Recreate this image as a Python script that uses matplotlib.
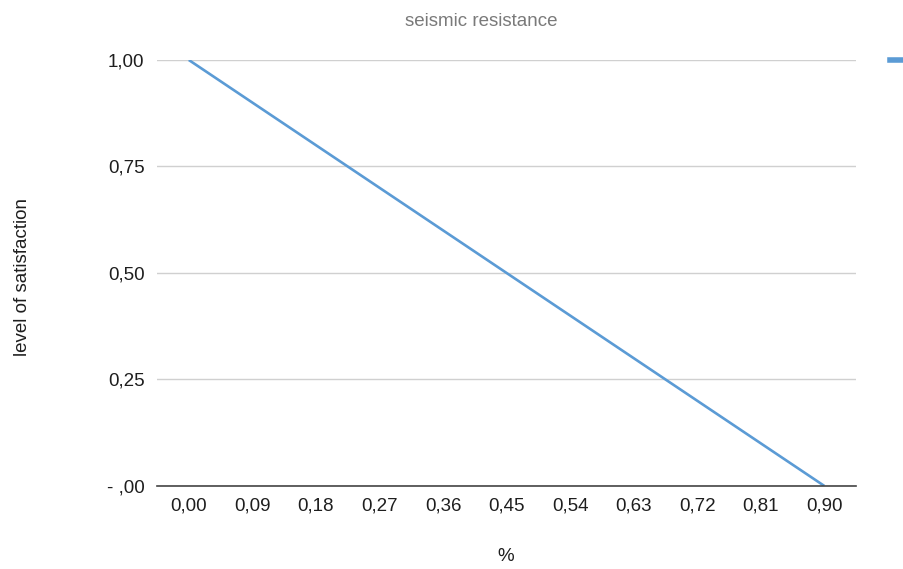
import matplotlib.pyplot as plt
from matplotlib.lines import Line2D

# share of damage (%) and the matching level of satisfaction
pct = [0.00, 0.09, 0.18, 0.27, 0.36, 0.45, 0.54, 0.63, 0.72, 0.81, 0.90]
satisfaction = [1.00, 0.90, 0.80, 0.70, 0.60, 0.50, 0.40, 0.30, 0.20, 0.10, 0.00]
y_ticks = [0.00, 0.25, 0.50, 0.75, 1.00]
y_labels = ['- ,00', '0,25', '0,50', '0,75', '1,00']

plt.rcParams['font.family'] = ['Liberation Sans', 'DejaVu Sans']

blue = '#5b9bd5'

fig = plt.figure(figsize=(9.04, 5.69), dpi=100)
ax = fig.add_axes([0.1737, 0.146, 0.7733, 0.7486])

# category axis: one slot per value
xs = list(range(len(pct)))
ax.plot(xs, satisfaction, color=blue, lw=1.9, solid_capstyle='butt', zorder=3)

ax.set_xlim(-0.5, len(pct) - 0.5)
ax.set_ylim(0, 1)
ax.set_xticks(xs)
ax.set_xticklabels([('%.2f' % v).replace('.', ',') for v in pct], fontsize=13.5,
                   color='#1e1e1e')
ax.set_yticks(y_ticks)
ax.set_yticklabels(y_labels, fontsize=13.5, color='#1e1e1e')
ax.tick_params(length=0, pad=9)
ax.tick_params(axis='x', pad=8)

ax.grid(axis='y', color='#d0d0d0', lw=1)
ax.set_axisbelow(True)
for s in ['top', 'right', 'left']:
    ax.spines[s].set_visible(False)
ax.spines['bottom'].set_color('#444444')
ax.spines['bottom'].set_linewidth(1.2)
ax.spines['bottom'].set_zorder(4)

fig.text(0.532, 0.962, 'seismic resistance', ha='center', va='center',
         fontsize=13.5, color='#7a7a7a')
fig.text(0.025, 0.513, 'level of satisfaction', rotation=90, ha='center',
         va='center', fontsize=13.5, color='#1e1e1e')
fig.text(0.559, 0.022, '%', ha='center', va='center', fontsize=13.5,
         color='#1e1e1e')

# legend swatch at the right edge
fig.add_artist(Line2D([0.985, 1.0], [0.8946, 0.8946], color=blue, lw=4,
                      transform=fig.transFigure))

fig.savefig('out.png', dpi=100)
